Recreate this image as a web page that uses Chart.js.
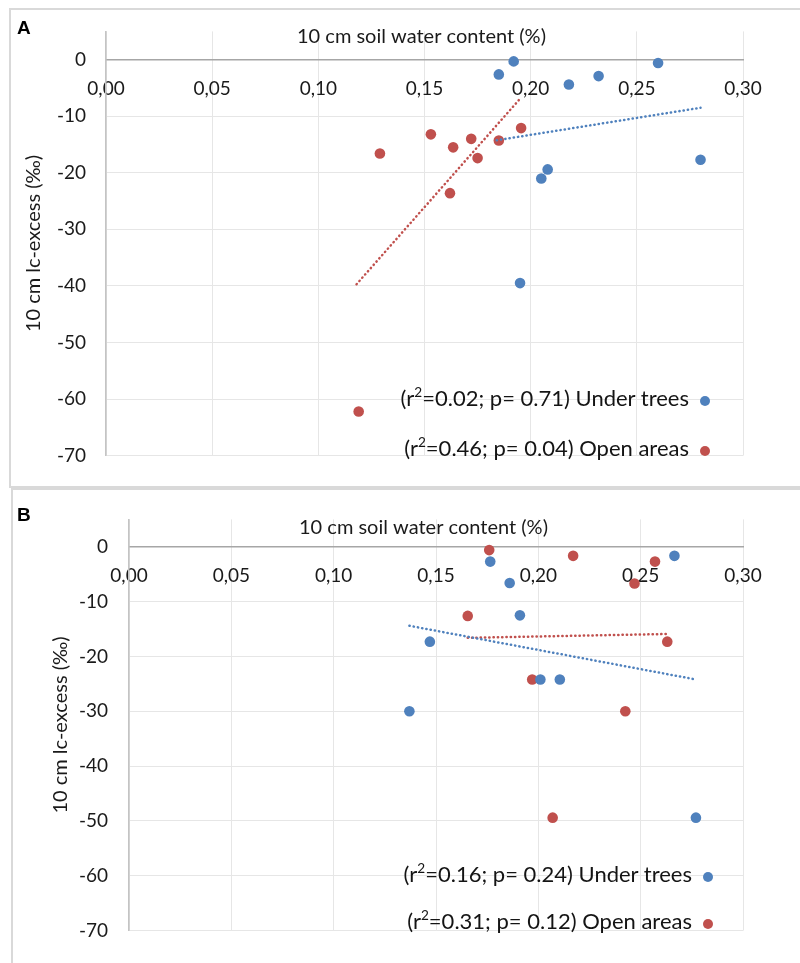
<!DOCTYPE html>
<html>
<head>
<meta charset="utf-8">
<script src="https://cdn.jsdelivr.net/npm/chart.js@4/dist/chart.umd.min.js"></script>
<style>
  html, body { margin:0; padding:0; background:#ffffff; }
  body { width:800px; height:963px; position:relative; overflow:hidden; font-family: Lato, 'Open Sans', sans-serif; }
  .box { position:absolute; border:2px solid #d9d9d9; border-right:none; box-sizing:border-box; }
  .panel-label { position:absolute; font-family:'Liberation Sans', Arial, sans-serif; font-weight:bold; font-size:19px; line-height:1; color:#000; z-index:3; }
  canvas { position:absolute; left:0; z-index:2; }
  .leg-row { position:absolute; display:flex; align-items:center; white-space:nowrap; font-family:Lato, sans-serif; font-size:22px; color:#141414; z-index:3; line-height:24px; }
  .leg-row sup { font-size:0.62em; line-height:0; position:relative; top:-0.05em; }
  .leg-dot { display:inline-block; width:10px; height:10px; border-radius:50%; margin-left:11px; position:relative; top:3px; }
</style>
</head>
<body>
<div class="box" style="left:9px; top:8px; width:800px; height:480px;"></div>
<div class="box" style="left:11px; top:488px; width:800px; height:490px;"></div>
<div class="panel-label" style="left:17px; top:18px;">A</div>
<div class="panel-label" style="left:17px; top:505px;">B</div>
<canvas id="chartA" width="800" height="487" style="top:0px;"></canvas>
<canvas id="chartB" width="800" height="476" style="top:487px;"></canvas>
<div id="legendA"></div>
<div id="legendB"></div>
<script>
// ---------- data ----------
const xTickLabels = ['0,00', '0,05', '0,10', '0,15', '0,20', '0,25', '0,30'];
const xTickValues = [0, 0.05, 0.10, 0.15, 0.20, 0.25, 0.30];
const yTickValues = [-70, -60, -50, -40, -30, -20, -10, 0];
const seriesNames = ['Under trees', 'Open areas'];

// Panel A
const aUnderX = [0.192, 0.185, 0.218, 0.232, 0.260, 0.280, 0.208, 0.205, 0.195];
const aUnderY = [-0.3, -2.6, -4.4, -2.9, -0.6, -17.7, -19.4, -21.0, -39.5];
const aOpenX  = [0.153, 0.1635, 0.172, 0.175, 0.185, 0.1955, 0.162, 0.129, 0.119];
const aOpenY  = [-13.2, -15.5, -14.0, -17.4, -14.3, -12.1, -23.6, -16.6, -62.2];
const aTrendUnderX = [0.184, 0.280];
const aTrendUnderY = [-14.25, -8.5];
const aTrendOpenX  = [0.118, 0.195];
const aTrendOpenY  = [-39.7, -6.9];
const aR2 = ['0.02', '0.46'];
const aP  = ['0.71', '0.04'];

// Panel B
const bUnderX = [0.1765, 0.186, 0.191, 0.147, 0.201, 0.2105, 0.2665, 0.137, 0.277];
const bUnderY = [-2.7, -6.6, -12.5, -17.3, -24.2, -24.2, -1.65, -30.0, -49.4];
const bOpenX  = [0.176, 0.217, 0.257, 0.247, 0.1655, 0.263, 0.197, 0.2425, 0.207];
const bOpenY  = [-0.6, -1.65, -2.7, -6.7, -12.6, -17.3, -24.2, -30.0, -49.4];
const bTrendUnderX = [0.137, 0.277];
const bTrendUnderY = [-14.4, -24.2];
const bTrendOpenX  = [0.1655, 0.263];
const bTrendOpenY  = [-16.6, -15.9];
const bR2 = ['0.16', '0.31'];
const bP  = ['0.24', '0.12'];

// ---------- styling ----------
const BLUE = '#4F81BD';
const RED  = '#C0504D';
const GRID = '#e6e6e6';
const TEXT = '#1a1a1a';
const FONT = 'Lato';

function pts(xs, ys) { return xs.map((x, i) => ({ x: x, y: ys[i] })); }

const titleShiftPlugin = {
  id: 'titleShift',
  afterLayout(chart, args, opts) {
    const s = chart.scales.x2;
    if (s && opts.shift) { s.left += opts.shift; s.right += opts.shift; }
  }
};

function makePanel(cv, d, g) {
  const trendStyle = { borderWidth: 2.5, borderDash: [0.3, 4.0], borderCapStyle: 'round',
    pointRadius: 0, pointHoverRadius: 0, fill: false, isTrend: true, type: 'scatter', showLine: true };
  const datasets = [
    Object.assign({ label: 'trend ' + seriesNames[0], data: pts(d.tux, d.tuy), borderColor: BLUE }, trendStyle),
    Object.assign({ label: 'trend ' + seriesNames[1], data: pts(d.tox, d.toy), borderColor: RED }, trendStyle),
    { label: seriesNames[0], data: pts(d.ux, d.uy), backgroundColor: BLUE, borderWidth: 0,
      pointRadius: 5.3, pointHoverRadius: 5.3, r2: d.r2[0], p: d.p[0] },
    { label: seriesNames[1], data: pts(d.ox, d.oy), backgroundColor: RED, borderWidth: 0,
      pointRadius: 5.3, pointHoverRadius: 5.3, r2: d.r2[1], p: d.p[1] }
  ];
  return new Chart(cv, {
    type: 'scatter',
    data: { datasets: datasets },
    plugins: [titleShiftPlugin],
    options: {
      responsive: false,
      animation: false,
      devicePixelRatio: 1,
      layout: { padding: { left: 0, top: 0, right: g.padRight, bottom: g.padBottom } },
      plugins: {
        legend: { display: false },
        tooltip: { enabled: false },
        titleShift: { shift: g.titleShift }
      },
      scales: {
        x: {
          type: 'linear',
          position: { y: 0 },
          min: 0, max: 0.30,
          afterBuildTicks: s => { s.ticks = xTickValues.map(v => ({ value: v })); },
          afterFit: s => { s.height = 0; },
          ticks: {
            autoSkip: false, maxRotation: 0, padding: 18,
            color: TEXT, font: { family: FONT, size: 19 },
            callback: (v, i) => xTickLabels[i]
          },
          grid: { color: GRID, lineWidth: 1, drawTicks: false },
          border: { color: '#a6a6a6', width: 1.6 }
        },
        x2: {
          type: 'linear',
          position: 'top',
          min: 0, max: 0.30,
          afterFit: s => { s.height = g.topH; },
          ticks: { display: false },
          grid: { display: false, drawTicks: false },
          border: { display: false },
          title: {
            display: true, text: '10 cm soil water content (%)', color: TEXT,
            font: { family: FONT, size: 20 }, padding: { top: g.titlePadTop, bottom: 0 }
          }
        },
        y: {
          type: 'linear',
          position: 'left',
          min: -70, max: 5,
          afterBuildTicks: s => { s.ticks = yTickValues.map(v => ({ value: v })); },
          afterFit: s => { s.width = g.yWidth; },
          ticks: { padding: g.yTickPad, color: TEXT, font: { family: FONT, size: 19 } },
          grid: { color: GRID, lineWidth: 1, drawTicks: false },
          border: { color: '#c4c4c4', width: 1.6 },
          title: {
            display: true, text: '10 cm lc-excess (‰)', color: TEXT,
            font: { family: FONT, size: 20 }, padding: { top: g.yTitlePad, bottom: 0 }
          }
        }
      }
    }
  });
}

function buildLegend(chart, el, rightX, centers) {
  const series = chart.data.datasets.filter(ds => !ds.isTrend);
  series.forEach((ds, i) => {
    const row = document.createElement('div');
    row.className = 'leg-row';
    row.style.right = (800 - rightX) + 'px';
    row.style.top = (centers[i] - 12) + 'px';
    const txt = document.createElement('span');
    txt.innerHTML = '(r<sup>2</sup>=' + ds.r2 + '; p= ' + ds.p + ') ' + ds.label;
    const dot = document.createElement('span');
    dot.className = 'leg-dot';
    dot.style.background = ds.backgroundColor;
    row.appendChild(txt);
    row.appendChild(dot);
    el.appendChild(row);
  });
}

const chartA = makePanel(document.getElementById('chartA'),
  { ux: aUnderX, uy: aUnderY, ox: aOpenX, oy: aOpenY,
    tux: aTrendUnderX, tuy: aTrendUnderY, tox: aTrendOpenX, toy: aTrendOpenY, r2: aR2, p: aP },
  { padRight: 57, padBottom: 22.7, topH: 30, titlePadTop: 23, yWidth: 106, yTickPad: 20, yTitlePad: 22, titleShift: -3 });

const chartB = makePanel(document.getElementById('chartB'),
  { ux: bUnderX, uy: bUnderY, ox: bOpenX, oy: bOpenY,
    tux: bTrendUnderX, tuy: bTrendUnderY, tox: bTrendOpenX, toy: bTrendOpenY, r2: bR2, p: bP },
  { padRight: 57, padBottom: 22.3, topH: 26.3, titlePadTop: 22.5, yWidth: 129, yTickPad: 21, yTitlePad: 49, titleShift: -12.5 });

buildLegend(chartA, document.getElementById('legendA'), 710, [398, 448]);
buildLegend(chartB, document.getElementById('legendB'), 713, [874, 921]);
</script>
</body>
</html>
